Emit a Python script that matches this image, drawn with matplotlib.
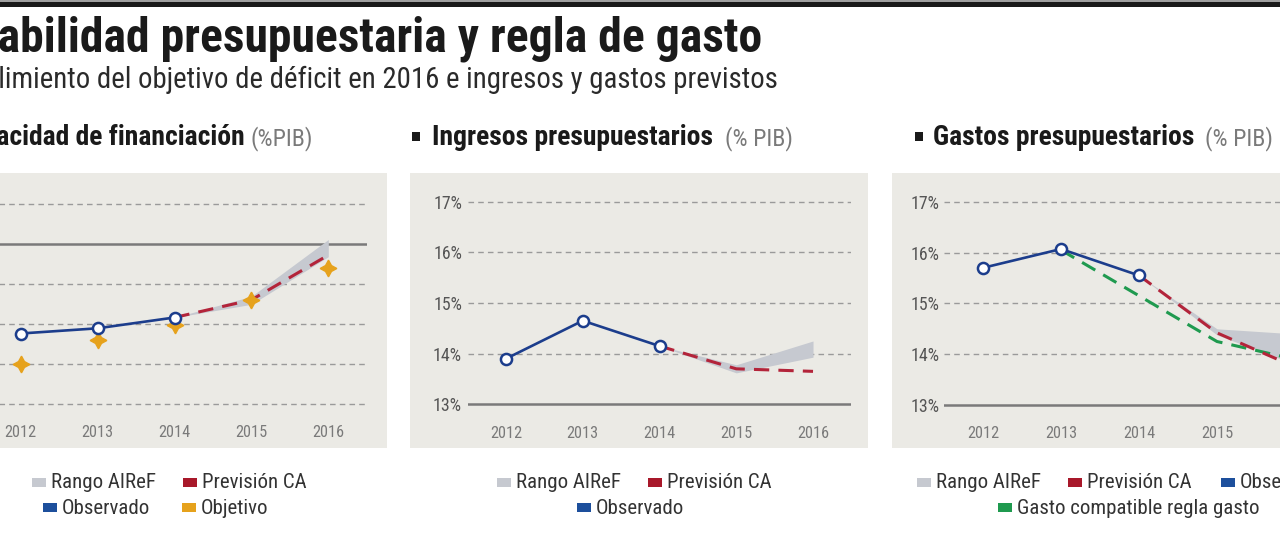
import matplotlib
matplotlib.use('Agg')
import matplotlib.pyplot as plt
import matplotlib.font_manager as fm
from matplotlib.patches import Rectangle

W, H = 1280, 548

years = [2012, 2013, 2014, 2015, 2016]
year_labels = ['2012', '2013', '2014', '2015', '2016']

# Capacidad de financiación (%PIB)
cap_obs_years = [2012, 2013, 2014]
cap_obs = [-2.23, -2.10, -1.83]
cap_prev_years = [2014, 2015, 2016]
cap_prev = [-1.83, -1.39, -0.27]
cap_obj = [-2.98, -2.39, -2.02, -1.39, -0.60]
cap_rango_low = [-1.83, -1.50, -0.31]
cap_rango_high = [-1.83, -1.30, 0.12]
cap_ticks = [-4, -3, -2, -1, 0, 1]

# Ingresos presupuestarios (% PIB)
ing_obs_years = [2012, 2013, 2014]
ing_obs = [13.90, 14.65, 14.15]
ing_prev_years = [2014, 2015, 2016]
ing_prev = [14.15, 13.70, 13.65]
ing_rango_low = [14.15, 13.62, 13.93]
ing_rango_high = [14.15, 13.78, 14.25]

# Gastos presupuestarios (% PIB)
gas_obs_years = [2012, 2013, 2014]
gas_obs = [15.70, 16.07, 15.55]
gas_prev_years = [2014, 2015, 2016]
gas_prev = [15.55, 14.42, 13.75]
gas_regla_years = [2013, 2014, 2015, 2016]
gas_regla = [16.05, 15.15, 14.25, 13.90]
gas_rango_low = [15.55, 14.38, 13.80]
gas_rango_high = [15.55, 14.50, 14.40]

pct_ticks = [13, 14, 15, 16, 17]
pct_labels = ['13%', '14%', '15%', '16%', '17%']

BG = '#ebeae5'
NAVY = '#1c3d8c'
RED = '#b3243a'
GREEN = '#1f9a4f'
ORANGE = '#e6a21c'
BAND = '#c6c9d0'
GRID = '#9a9a9a'
BASE = '#7a7a7a'


# pick a narrow font if there is one
def pick_font():
    ttf = fm.fontManager.ttflist
    names = {f.name for f in ttf}
    for n in ['Liberation Sans Narrow', 'Roboto Condensed', 'Open Sans Condensed',
              'Noto Sans Condensed', 'DejaVu Sans Condensed', 'Noto Sans Display Condensed']:
        if n in names:
            return n, 'normal'
    for fam in ['Noto Sans', 'Open Sans', 'DejaVu Sans', 'Roboto']:
        for f in ttf:
            if f.name == fam and str(f.stretch) in ('condensed', 'semi-condensed', '300', '400'):
                return fam, 'condensed'
    return 'Roboto', 'normal'


FAM, STRETCH = pick_font()
plt.rcParams['font.family'] = [FAM, 'DejaVu Sans']
plt.rcParams['font.stretch'] = STRETCH

fig = plt.figure(figsize=(W / 100, H / 100), dpi=100)
fig.patch.set_facecolor('white')
renderer = fig.canvas.get_renderer()


def fx(x):
    return x / W


def fy(y):
    return 1 - y / H


def rect(x0, y0, x1, y1, color, z=-5):
    fig.patches.append(Rectangle((fx(x0), fy(y1)), fx(x1 - x0), (y1 - y0) / H,
                                 transform=fig.transFigure, facecolor=color,
                                 edgecolor='none', zorder=z))


def size_for(s, target, weight='normal'):
    t = fig.text(0, 0, s, fontsize=20, fontweight=weight)
    w = t.get_window_extent(renderer).width
    t.remove()
    return 20 * target / w


def put(x, y, s, size, weight='normal', color='#1a1a1a', ha='left', va='baseline'):
    return fig.text(fx(x), fy(y), s, fontsize=size, fontweight=weight, color=color,
                    ha=ha, va=va)


def panel_axes(x0, x1, ytop, ybot):
    ax = fig.add_axes([fx(x0), fy(ybot), fx(x1 - x0), (ybot - ytop) / H])
    ax.set_facecolor('none')
    for s in ax.spines.values():
        s.set_visible(False)
    ax.set_xlim(2011.5, 2016.5)
    return ax


# top rule
rect(0, 0, W, 2.5, '#a0a0a0')
rect(0, 2.5, W, 7, '#1a1a1a')

# panel backgrounds
rect(-2, 173, 387, 448, BG)
rect(410, 173, 868, 448, BG)
rect(892, 173, W + 2, 448, BG)

# titles (the left part runs off the canvas, as in the original)
s_title = size_for('abilidad presupuestaria y regla de gasto', 762, 'bold')
put(762, 51, 'Estabilidad presupuestaria y regla de gasto', s_title, 'bold', ha='right')
s_sub = size_for('limiento del objetivo de déficit en 2016 e ingresos y gastos previstos', 775)
put(778, 88, 'Cumplimiento del objetivo de déficit en 2016 e ingresos y gastos previstos',
    s_sub, color='#2a2a2a', ha='right')

# panel headings
s_head = size_for('Ingresos presupuestarios', 281, 'bold')
s_unit = size_for('(% PIB)', 68)
put(245, 145, 'Capacidad de financiación', s_head, 'bold', ha='right')
put(250, 145, '(%PIB)', s_unit, color='#7a7a7a')

rect(412, 132, 420, 141, '#1a1a1a')
put(432, 145, 'Ingresos presupuestarios', s_head, 'bold')
put(725, 145, '(% PIB)', s_unit, color='#7a7a7a')

rect(915, 132, 923, 141, '#1a1a1a')
put(933, 145, 'Gastos presupuestarios', s_head, 'bold')
put(1205, 145, '(% PIB)', s_unit, color='#7a7a7a')

s_year = size_for('2012', 32)
s_pct = size_for('17%', 29)


def style_grid(ax, ticks, base):
    for t in ticks:
        if t == base:
            ax.axhline(t, color=BASE, lw=1.8, zorder=1)
        else:
            ax.axhline(t, color=GRID, lw=1.0, dashes=(4, 3), zorder=1)


def observed(ax, xs, ys):
    ax.plot(xs, ys, color=NAVY, lw=1.9, marker='o', markersize=8,
            markerfacecolor='white', markeredgecolor=NAVY, markeredgewidth=1.8,
            zorder=6, clip_on=False)


def year_axis(ax, pad):
    ax.set_xticks(years)
    ax.set_xticklabels(year_labels)
    ax.tick_params(axis='x', length=0, pad=pad, labelsize=s_year, labelcolor='#7a7a7a')


def pct_axis(ax, pad):
    ax.set_yticks(pct_ticks)
    ax.set_yticklabels(pct_labels)
    ax.tick_params(axis='y', length=0, pad=pad, labelsize=s_pct, labelcolor='#555555')


# ---- Capacidad de financiación
ax1 = panel_axes(-17.75, 366.75, 196.3, 412.3)
ax1.set_ylim(-4.2, 1.2)
style_grid(ax1, cap_ticks, 0)
ax1.fill_between(cap_prev_years, cap_rango_low, cap_rango_high, color=BAND, lw=0, zorder=2)
ax1.plot(cap_prev_years, cap_prev, color=RED, lw=2.2, dashes=(5, 3), zorder=4)
observed(ax1, cap_obs_years, cap_obs)
ax1.plot(years, cap_obj, linestyle='none', marker=(4, 1, 0), markersize=12,
         color=ORANGE, zorder=5, clip_on=False)
ax1.set_yticks([])
year_axis(ax1, 9.5)

# ---- Ingresos presupuestarios
ax2 = panel_axes(467.6, 851.4, 191.6, 414.4)
ax2.set_ylim(12.8, 17.2)
style_grid(ax2, pct_ticks, 13)
ax2.fill_between(ing_prev_years, ing_rango_low, ing_rango_high, color=BAND, lw=0, zorder=2)
ax2.plot(ing_prev_years, ing_prev, color=RED, lw=2.2, dashes=(5, 3), zorder=4)
observed(ax2, ing_obs_years, ing_obs)
pct_axis(ax2, 4)
year_axis(ax2, 8)

# ---- Gastos presupuestarios
ax3 = panel_axes(944, 1334, 191.6, 415.2)
ax3.set_ylim(12.8, 17.2)
style_grid(ax3, pct_ticks, 13)
ax3.fill_between(gas_prev_years, gas_rango_low, gas_rango_high, color=BAND, lw=0, zorder=2)
ax3.plot(gas_regla_years, gas_regla, color=GREEN, lw=2.2, dashes=(5, 3), zorder=3)
ax3.plot(gas_prev_years, gas_prev, color=RED, lw=2.2, dashes=(5, 3), zorder=4)
observed(ax3, gas_obs_years, gas_obs)
pct_axis(ax3, 3)
year_axis(ax3, 7.5)

# legends
s_key = size_for('Rango AIReF', 105)


def key(x, y, color, label):
    rect(x, y - 4.5, x + 14, y + 4.5, color)
    put(x + 19, y + 1, label, s_key, color='#333333', va='center')


key(32, 482, BAND, 'Rango AIReF')
key(183, 482, '#a8182a', 'Previsión CA')
key(43, 507, '#1d4f9c', 'Observado')
key(182, 507, ORANGE, 'Objetivo')

key(497, 482, BAND, 'Rango AIReF')
key(648, 482, '#a8182a', 'Previsión CA')
key(577, 507, '#1d4f9c', 'Observado')

key(917, 482, BAND, 'Rango AIReF')
key(1068, 482, '#a8182a', 'Previsión CA')
key(1221, 482, '#1d4f9c', 'Observado')
key(998, 507, GREEN, 'Gasto compatible regla gasto')

fig.savefig('out.png', dpi=100)
